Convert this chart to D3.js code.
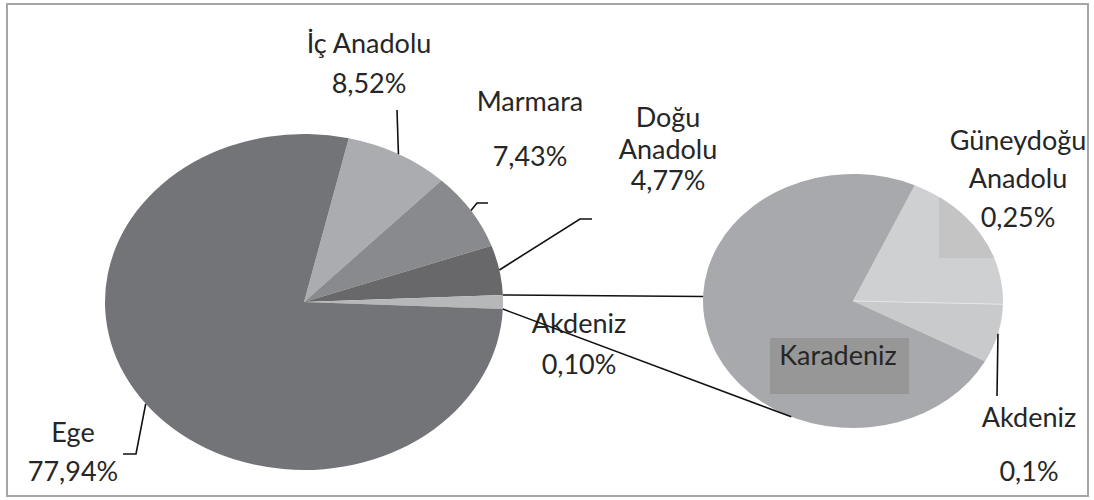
<!DOCTYPE html>
<html>
<head>
<meta charset="utf-8">
<script src="https://cdn.jsdelivr.net/npm/d3@7/dist/d3.min.js"></script>
<style>
  body { margin: 0; background: #fff; }
  text { font-family: Lato, 'Open Sans', sans-serif; font-size: 27px; fill: #262626; }
</style>
</head>
<body>
<div id="chart"></div>
<script>
// secondary pie (the small regions split out of the main pie)
const subNames = ['Güneydoğu Anadolu', 'Akdeniz', 'Karadeniz']
const subValues = [0.25, 0.1, 0.99]
const subColors = ['#cfd0d2', '#c9cacc', '#a8a9ac']
const subLabels = [['Güneydoğu', 'Anadolu', '0,25%'], ['Akdeniz', '', '0,1%'], ['Karadeniz']]

// main pie, clockwise from the top right; 'Diğer' is the slice expanded on the right
const mainNames = ['İç Anadolu', 'Marmara', 'Doğu Anadolu', 'Diğer', 'Ege']
const mainValues = [8.52, 7.43, 4.77, d3.sum(subValues), 77.94]
const mainColors = ['#abacaf', '#898a8d', '#68686a', '#b6b7b9', '#737478']
const mainLabels = [['İç Anadolu', '8,52%'], ['Marmara', '', '7,43%'], ['Doğu', 'Anadolu', '4,77%'], ['Akdeniz', '0,10%'], ['Ege', '77,94%']]

const W = 1094, H = 500

// layout of both pies (drawn as ellipses, like the stretched original)
const main = { cx: 304, cy: 302, rx: 199, ry: 168 }
const sub = { cx: 853, cy: 301, rx: 150, ry: 127 }

// label positions: centre x, first baseline, line height, leader elbow points
const mainLayout = [
  { x: 369, y: 53, lh: 39.5, leader: [[397, 110]] },
  { x: 530, y: 111, lh: 27.5, leader: [[477, 203], [488, 203]] },
  { x: 668, y: 127, lh: 31.7, leader: [[580, 219], [592, 219]] },
  { x: 579, y: 333, lh: 41, leader: null },
  { x: 73, y: 442, lh: 39.3, leader: [[136, 454], [123, 454]] },
]
const subLayout = [
  { x: 1018, y: 150, lh: 38.3, leader: null },
  { x: 1029, y: 427, lh: 27, leader: [[997, 396]] },
  { x: 838, y: 365, lh: 0, leader: null, box: [770, 338, 139, 56] },
]

const deg = Math.PI / 180
const rim = (p, a) => [p.cx + p.rx * Math.sin(a), p.cy - p.ry * Math.cos(a)]

const svg = d3.select('#chart').append('svg').attr('width', W).attr('height', H)

svg.append('rect')
  .attr('x', 7).attr('y', 4).attr('width', 1081).attr('height', 492)
  .attr('fill', '#fff').attr('stroke', '#a6a6a6').attr('stroke-width', 2)

// main pie: rotate so that the "other" slice is centred at 3 o'clock
const total = d3.sum(mainValues)
const before = d3.sum(mainValues.slice(0, 3)) + mainValues[3] / 2
const start = Math.PI / 2 - (before / total) * 2 * Math.PI
const mainArcs = d3.pie().sort(null).startAngle(start).endAngle(start + 2 * Math.PI)(mainValues)

const subStart = 24.3 * deg
const subArcs = d3.pie().sort(null).startAngle(subStart).endAngle(subStart + 2 * Math.PI)(subValues)

const drawPie = (p, arcs, colors) => {
  const arc = d3.arc().innerRadius(0).outerRadius(p.rx)
  const g = svg.append('g')
    .attr('transform', `translate(${p.cx},${p.cy}) scale(1,${p.ry / p.rx})`)
  g.selectAll('path')
    .data(arcs)
    .join('path')
    .attr('d', arc)
    .attr('fill', (d, i) => colors[i])
  return arc
}

drawPie(main, mainArcs, mainColors)
const subArc = drawPie(sub, subArcs, subColors)

// thin light seam between Güneydoğu and Akdeniz
const seam = rim(sub, subArcs[1].startAngle)
svg.append('line')
  .attr('x1', sub.cx).attr('y1', sub.cy)
  .attr('x2', seam[0]).attr('y2', seam[1])
  .attr('stroke', '#e4e5e6').attr('stroke-width', 1)

// darker patch inside the Güneydoğu slice
svg.append('clipPath').attr('id', 'gd-clip')
  .append('path')
  .attr('d', subArc(subArcs[0]))
  .attr('transform', `translate(${sub.cx},${sub.cy}) scale(1,${sub.ry / sub.rx})`)
svg.append('rect')
  .attr('x', 939).attr('y', 150).attr('width', 80).attr('height', 108)
  .attr('fill', '#c4c4c5')
  .attr('clip-path', 'url(#gd-clip)')

// labels
const drawLabels = (lines, layout) => {
  lines.forEach((label, i) => {
    const l = layout[i]
    if (l.box) {
      svg.append('rect')
        .attr('x', l.box[0]).attr('y', l.box[1])
        .attr('width', l.box[2]).attr('height', l.box[3])
        .attr('fill', '#979797')
    }
    svg.append('text')
      .attr('text-anchor', 'middle')
      .selectAll('tspan')
      .data(label)
      .join('tspan')
      .attr('x', l.x)
      .attr('y', (d, j) => l.y + j * l.lh)
      .text((d) => d)
  })
}
drawLabels(mainLabels, mainLayout)
drawLabels(subLabels, subLayout)

// leader lines from each slice's mid angle on the rim
const lineGen = d3.line()
const drawLeaders = (p, arcs, layout) => {
  arcs.forEach((d, i) => {
    const l = layout[i]
    if (!l.leader) return
    const a = (d.startAngle + d.endAngle) / 2
    svg.append('path')
      .attr('d', lineGen([rim(p, a), ...l.leader]))
      .attr('fill', 'none')
      .attr('stroke', '#111')
      .attr('stroke-width', 1.6)
  })
}
drawLeaders(main, mainArcs, mainLayout)
drawLeaders(sub, subArcs, subLayout)

// series lines joining the "other" slice to the small pie
const other = mainArcs[3]
const joins = [
  [rim(main, other.startAngle), rim(sub, 272 * deg)],
  [rim(main, other.endAngle), rim(sub, 204.3 * deg)],
]
svg.append('g')
  .selectAll('path')
  .data(joins)
  .join('path')
  .attr('d', (d) => lineGen(d))
  .attr('stroke', '#111')
  .attr('stroke-width', 1.6)
</script>
</body>
</html>
